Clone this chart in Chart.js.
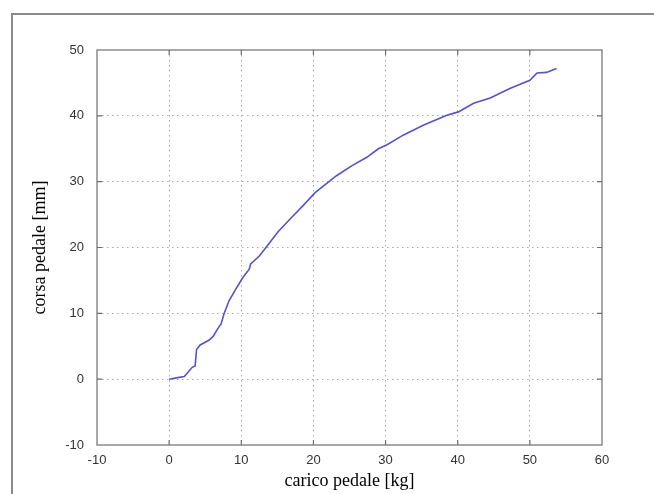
<!DOCTYPE html>
<html>
<head>
    <title>corsa pedale</title>
    <script src="https://cdn.jsdelivr.net/npm/chart.js"></script>
    <style>
        html, body { margin: 0; padding: 0; background: #fff; }
        #wrap { width: 654px; height: 494px; }
    </style>
</head>
<body>
    <div id="wrap"><canvas id="pedalChart"></canvas></div>

    <script>
        // carico pedale [kg] vs corsa pedale [mm]
        const loadKg = [0, 1.0, 2.1, 3.2, 3.6, 3.8, 4.3, 5.5, 6.1, 6.7, 7.2, 7.6, 8.3, 9.3, 10.2, 11.1, 11.3,
            12.5, 13.5, 15.1, 17.0, 18.6, 20.2, 21.8, 23.2, 25.3, 27.4, 29.0, 30.2, 32.5, 35.3, 38.5, 40.1,
            42.2, 44.5, 47.3, 50.0, 51.0, 52.3, 53.7];
        const travelMm = [0, 0.2, 0.4, 1.8, 2.0, 4.5, 5.2, 5.9, 6.5, 7.6, 8.4, 9.9, 11.9, 13.8, 15.4, 16.7, 17.5,
            18.7, 20.1, 22.4, 24.6, 26.4, 28.3, 29.7, 30.9, 32.4, 33.7, 35.0, 35.6, 37.1, 38.6, 40.1, 40.6,
            41.9, 42.7, 44.2, 45.4, 46.5, 46.6, 47.2];
        const xTicks = [-10, 0, 10, 20, 30, 40, 50, 60];
        const yTicks = [-10, 0, 10, 20, 30, 40, 50];

        const points = loadKg.map((x, i) => ({ x: x, y: travelMm[i] }));

        // outer figure frame + closed box with inward ticks (matlab look)
        const framePlugin = {
            id: 'frame',
            beforeDraw(chart) {
                const c = chart.ctx;
                c.save();
                c.strokeStyle = '#8a8a8a';
                c.lineWidth = 2;
                c.strokeRect(12, 14, 700, 600);
                c.restore();
            },
            afterDraw(chart) {
                const c = chart.ctx;
                const a = chart.chartArea;
                const xs = chart.scales.x, ys = chart.scales.y;
                c.save();
                c.strokeStyle = '#6e6e6e';
                c.lineWidth = 1.2;
                c.strokeRect(a.left, a.top, a.right - a.left, a.bottom - a.top);
                c.beginPath();
                xTicks.slice(1, -1).forEach(v => {
                    const px = xs.getPixelForValue(v);
                    c.moveTo(px, a.bottom); c.lineTo(px, a.bottom - 5);
                    c.moveTo(px, a.top); c.lineTo(px, a.top + 5);
                });
                yTicks.slice(1, -1).forEach(v => {
                    const py = ys.getPixelForValue(v);
                    c.moveTo(a.left, py); c.lineTo(a.left + 5, py);
                    c.moveTo(a.right, py); c.lineTo(a.right - 5, py);
                });
                c.stroke();
                c.restore();
            }
        };

        const gridStyle = {
            color: ctx => (ctx.tick && (ctx.index === 0 || ctx.index === ctx.chart.scales[ctx.scale.id].ticks.length - 1)) ? 'rgba(0,0,0,0)' : '#a8a8a8',
            lineWidth: 1,
            drawTicks: false
        };

        new Chart(document.getElementById('pedalChart'), {
            type: 'scatter',
            data: {
                datasets: [{
                    data: points,
                    showLine: true,
                    borderColor: 'rgb(84, 84, 200)',
                    borderWidth: 1.6,
                    pointRadius: 0,
                    tension: 0
                }]
            },
            plugins: [framePlugin],
            options: {
                responsive: true,
                maintainAspectRatio: false,
                animation: false,
                layout: { padding: { top: 50, right: 52, left: 0, bottom: 0 } },
                plugins: { legend: { display: false }, tooltip: { enabled: false } },
                scales: {
                    x: {
                        type: 'linear',
                        min: -10, max: 60,
                        afterBuildTicks: s => { s.ticks = xTicks.map(v => ({ value: v })); },
                        afterFit: s => { s.height = 49; },
                        grid: gridStyle,
                        border: { display: false, dash: [1.5, 3.5] },
                        ticks: { padding: 8, color: '#333', font: { family: 'Liberation Sans', size: 13 } },
                        title: {
                            display: true,
                            text: 'carico pedale [kg]',
                            color: '#000',
                            font: { family: 'Liberation Serif', size: 18 },
                            padding: { top: 0, bottom: 2 }
                        }
                    },
                    y: {
                        type: 'linear',
                        min: -10, max: 50,
                        afterBuildTicks: s => { s.ticks = yTicks.map(v => ({ value: v })); },
                        afterFit: s => { s.width = 97; },
                        grid: gridStyle,
                        border: { display: false, dash: [1.5, 3.5] },
                        ticks: { padding: 13, color: '#333', font: { family: 'Liberation Sans', size: 13 } },
                        title: {
                            display: true,
                            text: 'corsa pedale [mm]',
                            color: '#000',
                            font: { family: 'Liberation Serif', size: 18 },
                            padding: { top: 29, bottom: 0 }
                        }
                    }
                }
            }
        });
    </script>
</body>
</html>
